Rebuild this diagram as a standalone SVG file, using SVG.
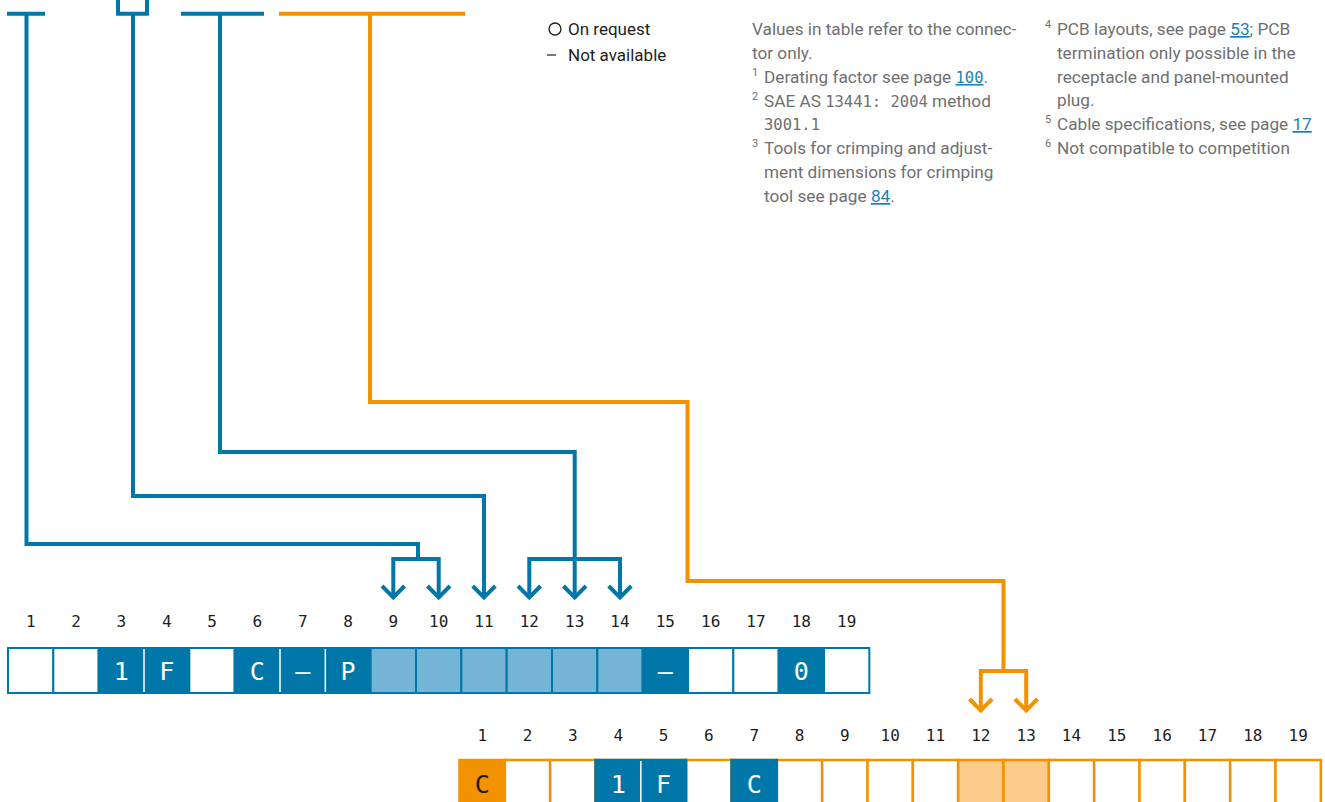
<svg xmlns="http://www.w3.org/2000/svg" width="1325" height="802" viewBox="0 0 1325 802">
<style>
.bl{fill:none;stroke:#0077a8;stroke-width:4;stroke-linejoin:miter}
.or{fill:none;stroke:#f39200;stroke-width:4;stroke-linejoin:miter}
.num{font-family:"DejaVu Sans Mono","Liberation Mono",monospace;font-size:16px;fill:#1d1d1b;text-anchor:middle}
.cell{font-family:"DejaVu Sans Mono","Liberation Mono",monospace;font-size:25px;text-anchor:middle}
.bc{fill:#fff;stroke:#0077a8;stroke-width:2}
.bd{fill:#0077a8;stroke:#0077a8;stroke-width:2}
.bll{fill:#74b5d6;stroke:#0077a8;stroke-width:2}
.oc{fill:#fff;stroke:#f39200;stroke-width:2.5}
.ol{fill:#fbcb8c;stroke:#f39200;stroke-width:2.5}
.of{fill:#f39200;stroke:#f39200;stroke-width:2.5}
.note{font-family:Roboto,"Liberation Sans",sans-serif;font-size:17.2px;fill:#706f6f}
.sup{font-family:Roboto,"Liberation Sans",sans-serif;font-size:11px;fill:#706f6f}
.mono{font-family:"DejaVu Sans Mono","Liberation Mono",monospace;font-size:15.5px}
.lnk{fill:#1d7fb3;text-decoration:underline}
.leg{font-family:Roboto,"Liberation Sans",sans-serif;font-size:17px;font-weight:400;fill:#1d1d1b}
</style>
<rect width="1325" height="802" fill="#fff"/>

<g id="legend">
<circle cx="555" cy="29" r="6" fill="none" stroke="#1d1d1b" stroke-width="1.3"/>
<text class="leg" x="568" y="35">On request</text>
<line x1="547" y1="55" x2="556" y2="55" stroke="#1d1d1b" stroke-width="1.2"/>
<text class="leg" x="568" y="61">Not available</text>
</g>

<g id="notes-left">
<text class="note" x="752" y="35">Values in table refer to the connec-</text>
<text class="note" x="752" y="59">tor only.</text>
<text class="sup" x="752" y="76">1</text>
<text class="note" x="764" y="83">Derating factor see page <tspan class="mono lnk">100</tspan>.</text>
<text class="sup" x="752" y="100">2</text>
<text class="note" x="764" y="107">SAE AS <tspan class="mono">13441: 2004</tspan> method</text>
<text class="note mono" x="764" y="130">3001.1</text>
<text class="sup" x="752" y="147">3</text>
<text class="note" x="764" y="154">Tools for crimping and adjust-</text>
<text class="note" x="764" y="178">ment dimensions for crimping</text>
<text class="note" x="764" y="202">tool see page <tspan class="lnk">84</tspan>.</text>
</g>

<g id="notes-right">
<text class="sup" x="1045" y="28">4</text>
<text class="note" x="1057" y="35">PCB layouts, see page <tspan class="lnk">53</tspan>; PCB</text>
<text class="note" x="1057" y="59">termination only possible in the</text>
<text class="note" x="1057" y="83">receptacle and panel-mounted</text>
<text class="note" x="1057" y="106">plug.</text>
<text class="sup" x="1045" y="123">5</text>
<text class="note" x="1057" y="130">Cable specifications, see page <tspan class="lnk">17</tspan></text>
<text class="sup" x="1045" y="147">6</text>
<text class="note" x="1057" y="154">Not compatible to competition</text>
</g>

<g id="connectors">
<path class="bl" d="M7,13.7 H45 M26.5,13.7 V544 H418 V559"/>
<path class="bl" d="M393.3,597 V559 H438.7 V597"/>
<polyline class="bl" points="382,586 393.3,597.5 404.6,586"/>
<polyline class="bl" points="427.4,586 438.7,597.5 450,586"/>

<path class="bl" d="M118,0 V13.7 H147 V0 M133,13.7 V496 H484 V597"/>
<polyline class="bl" points="472.7,586 484,597.5 495.3,586"/>

<path class="bl" d="M181,13.7 H264 M220,13.7 V452 H574.7 V597"/>
<path class="bl" d="M529.3,597 V559 H620 V597"/>
<polyline class="bl" points="518,586 529.3,597.5 540.6,586"/>
<polyline class="bl" points="563.4,586 574.7,597.5 586,586"/>
<polyline class="bl" points="608.7,586 620,597.5 631.3,586"/>

<path class="or" d="M279,13.7 H465 M370,13.7 V402 H687.5 V581 H1003.5 V671"/>
<path class="or" d="M980.8,710 V671 H1026.2 V710"/>
<polyline class="or" points="969.5,699 980.8,710.5 992.1,699"/>
<polyline class="or" points="1014.9,699 1026.2,710.5 1037.5,699"/>
</g>

<g id="table-blue">
<g class="num">
<text x="30.7" y="627">1</text><text x="76" y="627">2</text><text x="121.3" y="627">3</text><text x="166.7" y="627">4</text><text x="212" y="627">5</text><text x="257.3" y="627">6</text><text x="302.7" y="627">7</text><text x="348" y="627">8</text><text x="393.3" y="627">9</text><text x="438.7" y="627">10</text><text x="484" y="627">11</text><text x="529.3" y="627">12</text><text x="574.7" y="627">13</text><text x="620" y="627">14</text><text x="665.3" y="627">15</text><text x="710.7" y="627">16</text><text x="756" y="627">17</text><text x="801.3" y="627">18</text><text x="846.7" y="627">19</text>
</g>
<rect class="bc" x="8" y="648" width="45.33" height="45"/>
<rect class="bc" x="53.33" y="648" width="45.33" height="45"/>
<rect class="bd" x="98.67" y="648" width="45.33" height="45"/>
<rect class="bd" x="144" y="648" width="45.33" height="45"/>
<rect class="bc" x="189.33" y="648" width="45.33" height="45"/>
<rect class="bd" x="234.67" y="648" width="45.33" height="45"/>
<rect class="bd" x="280" y="648" width="45.33" height="45"/>
<rect class="bd" x="325.33" y="648" width="45.33" height="45"/>
<rect class="bll" x="370.67" y="648" width="45.33" height="45"/>
<rect class="bll" x="416" y="648" width="45.33" height="45"/>
<rect class="bll" x="461.33" y="648" width="45.33" height="45"/>
<rect class="bll" x="506.67" y="648" width="45.33" height="45"/>
<rect class="bll" x="552" y="648" width="45.33" height="45"/>
<rect class="bll" x="597.33" y="648" width="45.33" height="45"/>
<rect class="bd" x="642.67" y="648" width="45.33" height="45"/>
<rect class="bc" x="688" y="648" width="45.33" height="45"/>
<rect class="bc" x="733.33" y="648" width="45.33" height="45"/>
<rect class="bd" x="778.67" y="648" width="45.33" height="45"/>
<rect class="bc" x="824" y="648" width="45.33" height="45"/>
<g stroke="#fff" stroke-width="1.5">
<line x1="144" y1="649" x2="144" y2="692"/>
<line x1="280" y1="649" x2="280" y2="692"/>
<line x1="325.33" y1="649" x2="325.33" y2="692"/>
</g>
<g class="cell" fill="#fff">
<text x="121.3" y="680">1</text><text x="166.7" y="680">F</text><text x="257.3" y="680">C</text><text x="302.7" y="680">–</text><text x="348" y="680">P</text><text x="665.3" y="680">–</text><text x="801.3" y="680">0</text>
</g>
</g>

<g id="table-orange">
<g class="num">
<text x="482.2" y="741">1</text><text x="527.5" y="741">2</text><text x="572.8" y="741">3</text><text x="618.2" y="741">4</text><text x="663.5" y="741">5</text><text x="708.8" y="741">6</text><text x="754.2" y="741">7</text><text x="799.5" y="741">8</text><text x="844.8" y="741">9</text><text x="890.2" y="741">10</text><text x="935.5" y="741">11</text><text x="980.8" y="741">12</text><text x="1026.2" y="741">13</text><text x="1071.5" y="741">14</text><text x="1116.8" y="741">15</text><text x="1162.2" y="741">16</text><text x="1207.5" y="741">17</text><text x="1252.8" y="741">18</text><text x="1298.2" y="741">19</text>
</g>
<rect class="of" x="459.5" y="760" width="45.33" height="60"/>
<rect class="oc" x="504.83" y="760" width="45.33" height="60"/>
<rect class="oc" x="550.17" y="760" width="45.33" height="60"/>
<rect class="oc" x="595.5" y="760" width="45.33" height="60"/>
<rect class="oc" x="640.83" y="760" width="45.33" height="60"/>
<rect class="oc" x="686.17" y="760" width="45.33" height="60"/>
<rect class="oc" x="731.5" y="760" width="45.33" height="60"/>
<rect class="oc" x="776.83" y="760" width="45.33" height="60"/>
<rect class="oc" x="822.17" y="760" width="45.33" height="60"/>
<rect class="oc" x="867.5" y="760" width="45.33" height="60"/>
<rect class="oc" x="912.83" y="760" width="45.33" height="60"/>
<rect class="ol" x="958.17" y="760" width="45.33" height="60"/>
<rect class="ol" x="1003.5" y="760" width="45.33" height="60"/>
<rect class="oc" x="1048.83" y="760" width="45.33" height="60"/>
<rect class="oc" x="1094.17" y="760" width="45.33" height="60"/>
<rect class="oc" x="1139.5" y="760" width="45.33" height="60"/>
<rect class="oc" x="1184.83" y="760" width="45.33" height="60"/>
<rect class="oc" x="1230.17" y="760" width="45.33" height="60"/>
<rect class="oc" x="1275.5" y="760" width="45.33" height="60"/>
<rect x="594.3" y="758.8" width="93" height="50" fill="#0077a8"/>
<rect x="730.3" y="758.8" width="47.8" height="50" fill="#0077a8"/>
<line x1="640.83" y1="761" x2="640.83" y2="802" stroke="#fff" stroke-width="1.5"/>
<text class="cell" x="482.2" y="793" fill="#1d1d1b">C</text>
<g class="cell" fill="#fff">
<text x="618.2" y="793">1</text><text x="663.5" y="793">F</text><text x="754.2" y="793">C</text>
</g>
</g>
</svg>
